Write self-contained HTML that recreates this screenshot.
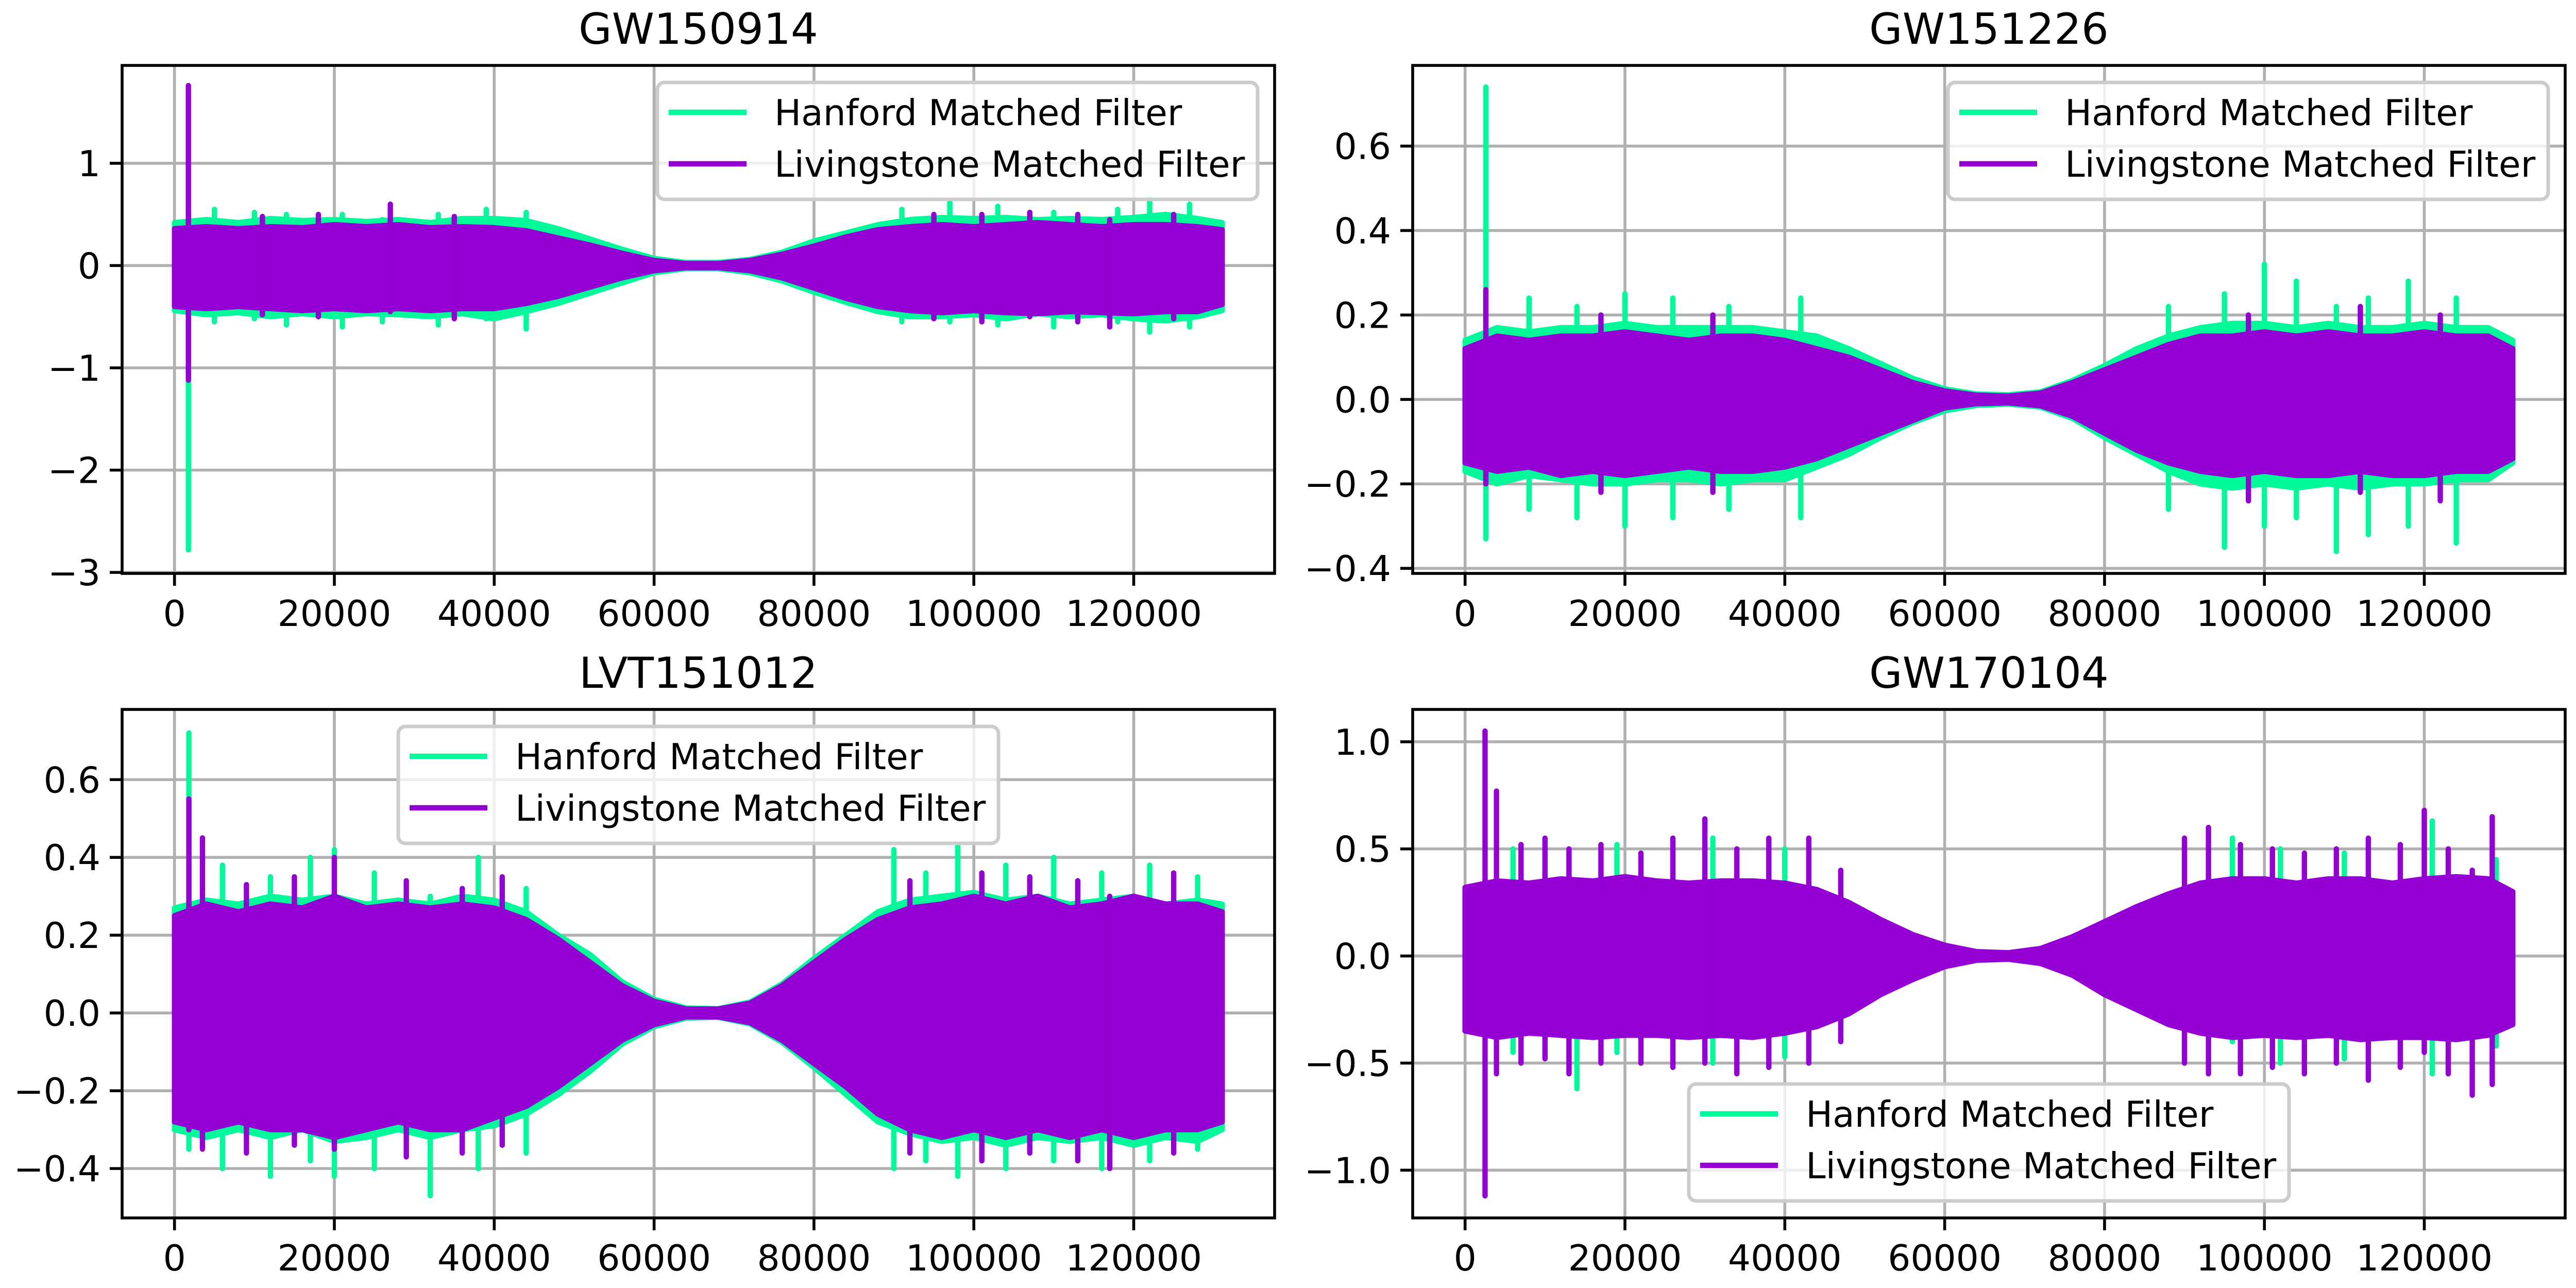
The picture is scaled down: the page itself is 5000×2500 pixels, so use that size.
<!DOCTYPE html>
<html><head><meta charset="utf-8"><style>
html,body{margin:0;padding:0;background:#fff;}
svg{display:block;font-family:"DejaVu Sans","Liberation Sans",sans-serif;}
</style></head><body>
<svg id="fig" width="5000" height="2500" viewBox="0 0 5000 2500" xmlns="http://www.w3.org/2000/svg"></svg>
<script>
// shared sample positions (sample index)
const xs=[0,4000,8000,12000,16000,20000,24000,28000,32000,36000,40000,44000,48000,52000,56000,60000,64000,68000,72000,76000,80000,84000,88000,92000,96000,100000,104000,108000,112000,116000,120000,124000,128000,131072];
const xTicks=[0,20000,40000,60000,80000,100000,120000];
const xTickLabels=["0","20000","40000","60000","80000","100000","120000"];
const seriesNames=["Hanford Matched Filter","Livingstone Matched Filter"];

// GW150914
const tlHanHi=[0.42,0.45,0.42,0.46,0.44,0.45,0.43,0.45,0.42,0.46,0.46,0.44,0.36,0.26,0.16,0.07,0.03,0.03,0.06,0.13,0.24,0.32,0.4,0.45,0.47,0.46,0.47,0.45,0.46,0.45,0.47,0.5,0.46,0.42];
const tlHanLo=[-0.44,-0.48,-0.46,-0.5,-0.47,-0.5,-0.47,-0.48,-0.5,-0.47,-0.52,-0.45,-0.37,-0.27,-0.17,-0.07,-0.03,-0.03,-0.07,-0.15,-0.26,-0.36,-0.45,-0.5,-0.5,-0.48,-0.52,-0.47,-0.5,-0.48,-0.52,-0.54,-0.5,-0.44];
const tlLivHi=[0.36,0.38,0.36,0.38,0.37,0.4,0.38,0.4,0.37,0.38,0.37,0.34,0.27,0.2,0.12,0.05,0.02,0.02,0.05,0.11,0.19,0.28,0.35,0.38,0.4,0.38,0.4,0.42,0.4,0.38,0.4,0.4,0.38,0.35];
const tlLivLo=[-0.4,-0.42,-0.4,-0.42,-0.44,-0.42,-0.44,-0.42,-0.44,-0.42,-0.42,-0.37,-0.3,-0.21,-0.12,-0.05,-0.02,-0.02,-0.05,-0.12,-0.22,-0.32,-0.4,-0.44,-0.46,-0.44,-0.46,-0.47,-0.45,-0.46,-0.47,-0.45,-0.45,-0.38];
const tlHanSpX=[1740,5000,10000,14000,21000,26000,33000,39000,44000,91000,97000,103000,110000,118000,122000,127000], tlHanSpHi=[0.4,0.55,0.52,0.5,0.5,0.45,0.5,0.55,0.52,0.55,0.62,0.58,0.52,0.55,0.65,0.6], tlHanSpLo=[-2.78,-0.55,-0.52,-0.58,-0.6,-0.55,-0.58,-0.52,-0.62,-0.55,-0.55,-0.58,-0.6,-0.55,-0.65,-0.6];
const tlLivSpX=[1740,11000,18000,27000,35000,95000,101000,107000,113000,117000,125000], tlLivSpHi=[1.76,0.48,0.5,0.6,0.48,0.5,0.5,0.52,0.5,0.45,0.5], tlLivSpLo=[-1.12,-0.48,-0.5,-0.45,-0.52,-0.52,-0.55,-0.5,-0.55,-0.6,-0.52];
const tlYTicks=[-3,-2,-1,0,1], tlYLabels=["\u22123","\u22122","\u22121","0","1"];

// GW151226
const trHanHi=[0.14,0.17,0.16,0.17,0.17,0.18,0.17,0.17,0.17,0.17,0.16,0.15,0.12,0.085,0.05,0.025,0.013,0.011,0.018,0.045,0.08,0.12,0.15,0.17,0.18,0.18,0.17,0.18,0.17,0.17,0.18,0.17,0.17,0.14];
const trHanLo=[-0.17,-0.2,-0.18,-0.19,-0.2,-0.2,-0.19,-0.19,-0.2,-0.19,-0.19,-0.16,-0.13,-0.09,-0.055,-0.027,-0.014,-0.011,-0.018,-0.045,-0.09,-0.13,-0.17,-0.2,-0.21,-0.2,-0.21,-0.2,-0.21,-0.2,-0.2,-0.19,-0.19,-0.15];
const trLivHi=[0.12,0.15,0.14,0.15,0.15,0.16,0.15,0.14,0.15,0.15,0.14,0.12,0.1,0.07,0.04,0.02,0.01,0.008,0.015,0.04,0.07,0.1,0.13,0.15,0.15,0.16,0.15,0.16,0.15,0.15,0.16,0.15,0.15,0.12];
const trLivLo=[-0.15,-0.17,-0.16,-0.18,-0.17,-0.18,-0.17,-0.16,-0.17,-0.17,-0.16,-0.14,-0.11,-0.08,-0.05,-0.02,-0.01,-0.008,-0.015,-0.04,-0.08,-0.12,-0.15,-0.17,-0.18,-0.17,-0.18,-0.18,-0.17,-0.18,-0.18,-0.17,-0.17,-0.14];
const trHanSpX=[2600,8000,14000,20000,26000,33000,42000,88000,95000,100000,104000,109000,113000,118000,124000], trHanSpHi=[0.74,0.24,0.22,0.25,0.24,0.22,0.24,0.22,0.25,0.32,0.28,0.22,0.24,0.28,0.24], trHanSpLo=[-0.33,-0.26,-0.28,-0.3,-0.28,-0.26,-0.28,-0.26,-0.35,-0.3,-0.28,-0.36,-0.32,-0.3,-0.34];
const trLivSpX=[2600,17000,31000,98000,112000,122000], trLivSpHi=[0.26,0.2,0.2,0.2,0.22,0.2], trLivSpLo=[-0.2,-0.22,-0.22,-0.24,-0.22,-0.24];
const trYTicks=[-0.4,-0.2,0,0.2,0.4,0.6], trYLabels=["\u22120.4","\u22120.2","0.0","0.2","0.4","0.6"];

// LVT151012
const blHanHi=[0.27,0.29,0.28,0.3,0.29,0.3,0.28,0.29,0.28,0.3,0.29,0.26,0.2,0.15,0.08,0.035,0.013,0.011,0.028,0.075,0.14,0.2,0.26,0.29,0.3,0.31,0.29,0.3,0.28,0.29,0.3,0.28,0.29,0.28];
const blHanLo=[-0.3,-0.32,-0.3,-0.32,-0.3,-0.33,-0.32,-0.3,-0.32,-0.3,-0.29,-0.26,-0.21,-0.15,-0.08,-0.035,-0.013,-0.011,-0.028,-0.075,-0.14,-0.21,-0.28,-0.31,-0.33,-0.32,-0.34,-0.32,-0.33,-0.32,-0.34,-0.32,-0.33,-0.3];
const blLivHi=[0.25,0.28,0.26,0.28,0.27,0.3,0.27,0.28,0.27,0.28,0.27,0.24,0.19,0.13,0.07,0.03,0.01,0.01,0.025,0.07,0.13,0.19,0.24,0.27,0.28,0.3,0.28,0.3,0.27,0.28,0.3,0.28,0.28,0.26];
const blLivLo=[-0.28,-0.3,-0.28,-0.3,-0.3,-0.32,-0.3,-0.28,-0.3,-0.3,-0.27,-0.24,-0.19,-0.13,-0.07,-0.03,-0.01,-0.01,-0.025,-0.07,-0.13,-0.19,-0.26,-0.3,-0.32,-0.3,-0.32,-0.3,-0.32,-0.3,-0.32,-0.3,-0.3,-0.28];
const blHanSpX=[1800,6000,12000,17000,20000,25000,32000,38000,44000,90000,94000,98000,104000,110000,116000,122000,128000], blHanSpHi=[0.72,0.38,0.35,0.4,0.42,0.36,0.3,0.4,0.32,0.42,0.36,0.43,0.38,0.4,0.36,0.38,0.35], blHanSpLo=[-0.35,-0.4,-0.42,-0.38,-0.42,-0.4,-0.47,-0.4,-0.36,-0.4,-0.38,-0.42,-0.4,-0.38,-0.4,-0.38,-0.35];
const blLivSpX=[1800,3500,9000,15000,20000,29000,36000,41000,92000,101000,107000,113000,117000,125000], blLivSpHi=[0.55,0.45,0.33,0.35,0.4,0.34,0.32,0.35,0.34,0.36,0.35,0.34,0.3,0.36], blLivSpLo=[-0.3,-0.35,-0.36,-0.34,-0.35,-0.37,-0.36,-0.34,-0.36,-0.38,-0.36,-0.38,-0.4,-0.36];
const blYTicks=[-0.4,-0.2,0,0.2,0.4,0.6], blYLabels=["\u22120.4","\u22120.2","0.0","0.2","0.4","0.6"];

// GW170104
const brHanHi=[0.3,0.33,0.32,0.34,0.33,0.34,0.33,0.32,0.33,0.33,0.32,0.29,0.23,0.16,0.09,0.045,0.018,0.014,0.03,0.08,0.14,0.21,0.27,0.31,0.33,0.34,0.32,0.33,0.33,0.32,0.34,0.34,0.33,0.28];
const brHanLo=[-0.33,-0.36,-0.34,-0.35,-0.36,-0.35,-0.35,-0.36,-0.35,-0.36,-0.34,-0.31,-0.25,-0.17,-0.1,-0.045,-0.018,-0.014,-0.03,-0.08,-0.16,-0.23,-0.3,-0.34,-0.36,-0.35,-0.36,-0.35,-0.37,-0.36,-0.36,-0.37,-0.35,-0.3];
const brLivHi=[0.32,0.35,0.34,0.36,0.35,0.37,0.35,0.34,0.35,0.35,0.34,0.31,0.25,0.17,0.1,0.05,0.02,0.015,0.035,0.09,0.16,0.23,0.29,0.34,0.36,0.36,0.34,0.36,0.36,0.34,0.36,0.37,0.36,0.3];
const brLivLo=[-0.35,-0.38,-0.36,-0.37,-0.38,-0.37,-0.37,-0.38,-0.37,-0.38,-0.36,-0.33,-0.27,-0.18,-0.11,-0.05,-0.02,-0.015,-0.035,-0.09,-0.18,-0.25,-0.32,-0.36,-0.38,-0.37,-0.38,-0.37,-0.39,-0.38,-0.38,-0.39,-0.37,-0.32];
const brHanSpX=[6000,14000,19000,31000,40000,96000,102000,110000,121000,129000], brHanSpHi=[0.5,0.35,0.52,0.55,0.5,0.55,0.5,0.48,0.63,0.45], brHanSpLo=[-0.45,-0.62,-0.45,-0.5,-0.47,-0.4,-0.5,-0.48,-0.55,-0.42];
const brLivSpX=[2500,3930,7000,10000,13000,17000,22000,26000,30000,34000,38000,43000,47000,90000,93000,97000,101000,105000,109000,113000,117000,120000,123000,126000,128500], brLivSpHi=[1.05,0.77,0.52,0.55,0.5,0.52,0.48,0.55,0.64,0.5,0.55,0.55,0.4,0.55,0.6,0.52,0.5,0.48,0.5,0.55,0.52,0.68,0.5,0.4,0.65], brLivSpLo=[-1.12,-0.55,-0.5,-0.48,-0.55,-0.5,-0.5,-0.52,-0.5,-0.55,-0.52,-0.5,-0.4,-0.5,-0.55,-0.55,-0.52,-0.55,-0.5,-0.58,-0.52,-0.45,-0.55,-0.65,-0.6];
const brYTicks=[-1,-0.5,0,0.5,1], brYLabels=["\u22121.0","\u22120.5","0.0","0.5","1.0"];

const NS="http://www.w3.org/2000/svg";
const svg=document.getElementById('fig');
const GREEN="#00fa9a", PURPLE="#9400d3";
function mk(tag,attrs,parent){const e=document.createElementNS(NS,tag);for(const k in attrs)e.setAttribute(k,attrs[k]);(parent||svg).appendChild(e);return e;}

const panels=[
 {key:"gw150914",title:"GW150914",L:237,T:127,W:2237,H:986,y0:-3.01,y1:1.957,hh:tlHanHi,hl:tlHanLo,lh:tlLivHi,ll:tlLivLo,hsx:tlHanSpX,hsh:tlHanSpHi,hsl:tlHanSpLo,lsx:tlLivSpX,lsh:tlLivSpHi,lsl:tlLivSpLo,yt:tlYTicks,yl:tlYLabels,leg:"ur"},
 {key:"gw151226",title:"GW151226",L:2742,T:127,W:2237,H:986,y0:-0.412,y1:0.791,hh:trHanHi,hl:trHanLo,lh:trLivHi,ll:trLivLo,hsx:trHanSpX,hsh:trHanSpHi,hsl:trHanSpLo,lsx:trLivSpX,lsh:trLivSpHi,lsl:trLivSpLo,yt:trYTicks,yl:trYLabels,leg:"ur"},
 {key:"lvt151012",title:"LVT151012",L:237,T:1377,W:2237,H:987,y0:-0.527,y1:0.7805,hh:blHanHi,hl:blHanLo,lh:blLivHi,ll:blLivLo,hsx:blHanSpX,hsh:blHanSpHi,hsl:blHanSpLo,lsx:blLivSpX,lsh:blLivSpHi,lsl:blLivSpLo,yt:blYTicks,yl:blYLabels,leg:"uc"},
 {key:"gw170104",title:"GW170104",L:2742,T:1377,W:2237,H:987,y0:-1.223,y1:1.151,hh:brHanHi,hl:brHanLo,lh:brLivHi,ll:brLivLo,hsx:brHanSpX,hsh:brHanSpHi,hsl:brHanSpLo,lsx:brLivSpX,lsh:brLivSpHi,lsl:brLivSpLo,yt:brYTicks,yl:brYLabels,leg:"lc"}
];
const XMIN=-6554, XMAX=137626;

panels.forEach((p,pi)=>{
  const X=v=>p.L+(v-XMIN)/(XMAX-XMIN)*p.W;
  const Y=v=>p.T+(p.y1-v)/(p.y1-p.y0)*p.H;
  const g=mk('g',{});
  
  
  const cid='clip'+pi;
  const cp=mk('clipPath',{id:cid},g);
  mk('rect',{x:p.L,y:p.T,width:p.W,height:p.H},cp);
  const grid=mk('g',{stroke:'#b0b0b0','stroke-width':5.6},g);
  
  
  xTicks.forEach(t=>{mk('line',{x1:X(t),x2:X(t),y1:p.T,y2:p.T+p.H},grid);});
  p.yt.forEach(t=>{mk('line',{x1:p.L,x2:p.L+p.W,y1:Y(t),y2:Y(t)},grid);});
  const plot=mk('g',{'clip-path':'url(#'+cid+')'},g);
  function band(hi,lo,col,name){
    let pts=[];
    for(let i=0;i<xs.length;i++)pts.push(X(xs[i]).toFixed(1)+','+Y(hi[i]).toFixed(1));
    for(let i=xs.length-1;i>=0;i--)pts.push(X(xs[i]).toFixed(1)+','+Y(lo[i]).toFixed(1));
    const e=mk('polygon',{points:pts.join(' '),fill:col,stroke:col,'stroke-width':10.4,'stroke-linejoin':'round'},plot);
    
    
  }
  function spikes(sx,sh,sl,col,name){
    for(let i=0;i<sx.length;i++){
      const e=mk('line',{x1:X(sx[i]),x2:X(sx[i]),y1:Y(sh[i]),y2:Y(sl[i]),stroke:col,'stroke-width':10.4,'stroke-linecap':'round'},plot);
      
      
    }
  }
  band(p.hh,p.hl,GREEN,'hanford-series');
  spikes(p.hsx,p.hsh,p.hsl,GREEN,'hanford-spike');
  band(p.lh,p.ll,PURPLE,'livingstone-series');
  spikes(p.lsx,p.lsh,p.lsl,PURPLE,'livingstone-spike');
  const sp=mk('rect',{x:p.L,y:p.T,width:p.W,height:p.H,fill:'none',stroke:'#000','stroke-width':5.6},g);
  
  
  xTicks.forEach((t,i)=>{
    mk('line',{x1:X(t),x2:X(t),y1:p.T+p.H,y2:p.T+p.H+24,stroke:'#000','stroke-width':5.6},g);
    const tx=mk('text',{x:X(t),y:p.T+p.H+102,'text-anchor':'middle','font-size':69.4,fill:'#000'},g);
    tx.textContent=xTickLabels[i];
    
    
  });
  p.yt.forEach((t,i)=>{
    mk('line',{x1:p.L-24,x2:p.L,y1:Y(t),y2:Y(t),stroke:'#000','stroke-width':5.6},g);
    const tx=mk('text',{x:p.L-42,y:Y(t)+25,'text-anchor':'end','font-size':69.4,fill:'#000'},g);
    tx.textContent=p.yl[i];
    
    
  });
  const ti=mk('text',{x:p.L+p.W/2,y:p.T-42,'text-anchor':'middle','font-size':83.3,fill:'#000'},g);
  ti.textContent=p.title;
  
  
  const LW=1165, LH=227;
  let lx,ly;
  if(p.leg==='ur'){lx=p.L+p.W-33-LW;ly=p.T+33;}
  else if(p.leg==='uc'){lx=p.L+p.W/2-LW/2;ly=p.T+33;}
  else {lx=p.L+p.W/2-LW/2;ly=p.T+p.H-33-LH;}
  const lg=mk('g',{},g);
  
  
  mk('rect',{x:lx,y:ly,width:LW,height:LH,rx:14,fill:'#fff','fill-opacity':0.8,stroke:'#cccccc','stroke-width':7},lg);
  [GREEN,PURPLE].forEach((c,i)=>{
    const yy=ly+58+i*100;
    const e=mk('g',{},lg);
    
    
    mk('line',{x1:lx+22,x2:lx+173,y1:yy,y2:yy,stroke:c,'stroke-width':10.4},e);
    const t=mk('text',{x:lx+227,y:yy+25,'font-size':69.4,fill:'#000'},e);
    t.textContent=seriesNames[i];
  });
});
</script>
</body></html>
